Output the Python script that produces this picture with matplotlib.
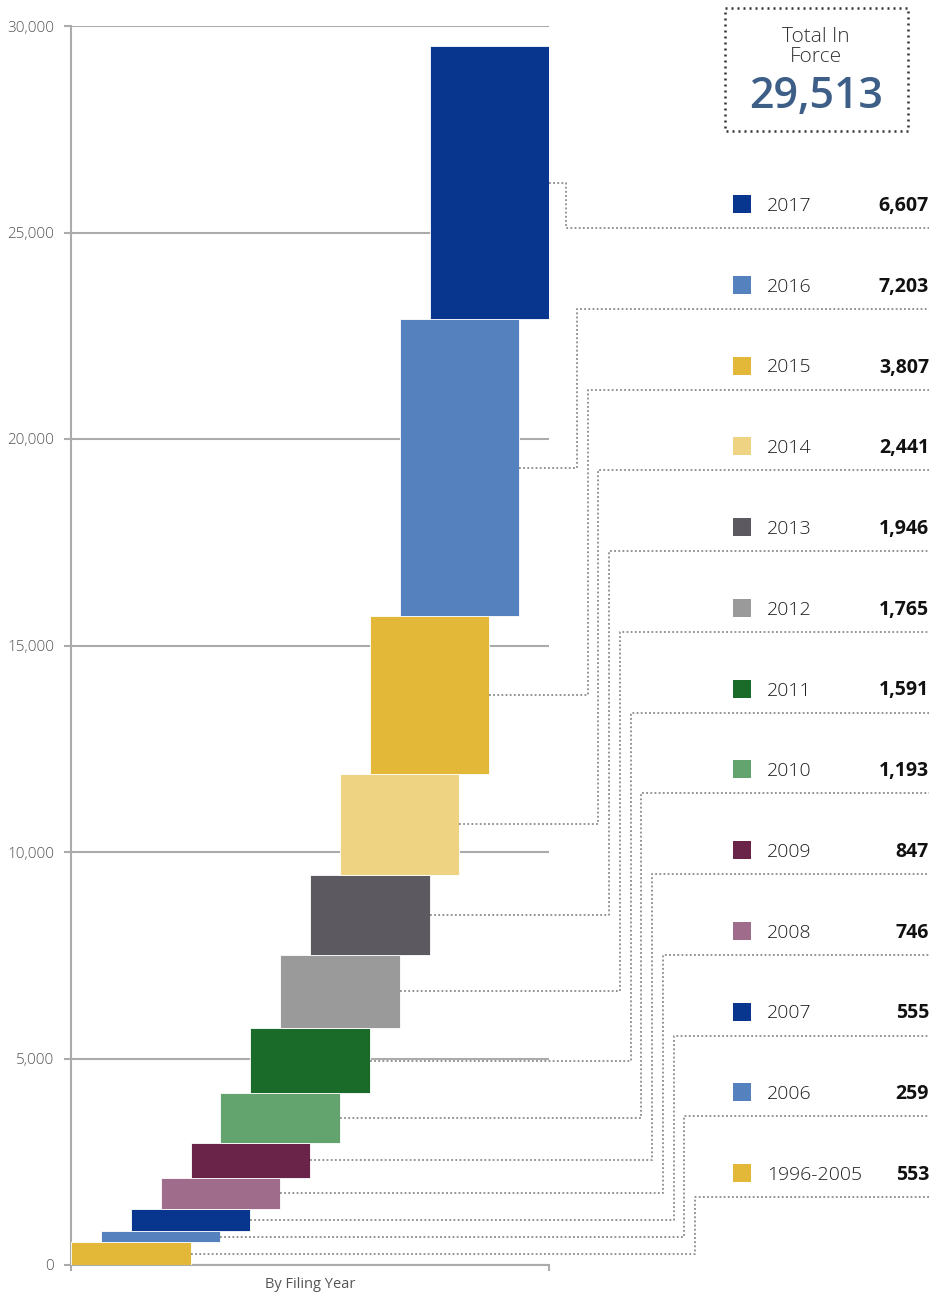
import numpy as np
import matplotlib
matplotlib.use('Agg')
from matplotlib import pyplot as plt
from matplotlib.patches import Rectangle

plt.rcParams['font.family'] = ['Open Sans', 'DejaVu Sans']

# filing years, oldest first
years = ['1996-2005', '2006', '2007', '2008', '2009', '2010', '2011',
         '2012', '2013', '2014', '2015', '2016', '2017']
counts = [553, 259, 555, 746, 847, 1193, 1591, 1765, 1946, 2441, 3807, 7203, 6607]
colors = ['#E3B838', '#5582BE', '#08368F', '#A06C8C', '#6A2449', '#63A36E', '#1A6B2A',
          '#9A9A9A', '#5C5A60', '#EED382', '#E3B838', '#5582BE', '#08368F']
y_ticks = [0, 5000, 10000, 15000, 20000, 25000, 30000]
total_label = '29,513'

W, H = 932, 1297
grid_col = '#ABABAB'
dot_col = '#8A8A8A'

fig = plt.figure(figsize=(W / 100, H / 100), dpi=100)
ax = fig.add_axes([71 / W, (H - 1265) / H, (549 - 71) / W, (1265 - 26) / H])

# waterfall: each bar sits on top of the running total
tops = np.cumsum(counts)
bottoms = tops - np.array(counts)
xs = np.arange(len(counts))
bar_w = 4
ax.bar(xs, counts, bottom=bottoms, width=bar_w, align='edge', color=colors,
       edgecolor='white', linewidth=0.6, zorder=3)

ax.set_xlim(0, len(counts) - 1 + bar_w)
ax.set_ylim(0, 30000)
ax.set_yticks(y_ticks)
ax.set_yticklabels([f'{t:,}' for t in y_ticks])
ax.set_xticks([0, len(counts) - 1 + bar_w])
ax.set_xticklabels([])
ax.set_axisbelow(True)
ax.yaxis.grid(True, color=grid_col, linewidth=1.5)
for s in ['top', 'right']:
    ax.spines[s].set_visible(False)
for s in ['left', 'bottom']:
    ax.spines[s].set_color(grid_col)
    ax.spines[s].set_linewidth(1.5)
ax.tick_params(axis='y', length=5, width=1.5, color=grid_col, labelsize=11,
               labelcolor='#555555', pad=7)
ax.tick_params(axis='x', length=4, width=1.5, color=grid_col)
ax.set_xlabel('By Filing Year', fontsize=10.5, color='#555555', labelpad=1)
for lab in ax.get_yticklabels():
    lab.set_fontweight('light')

# overlay in pixel coordinates for the legend and connectors
ov = fig.add_axes([0, 0, 1, 1], zorder=5)
ov.set_xlim(0, W)
ov.set_ylim(H, 0)
ov.axis('off')
to_pix = ov.transData.inverted()

row_y0 = 1173
row_step = 80.75
vert_x0 = 695
vert_step = 10.75
line_kw = dict(color=dot_col, linewidth=1.3, dashes=(1, 1.3), solid_capstyle='butt')

for i in range(len(counts)):
    px, py = to_pix.transform(ax.transData.transform((xs[i] + bar_w, bottoms[i] + counts[i] / 2)))
    ry = row_y0 - row_step * i
    ly = ry + 24
    vx = vert_x0 - vert_step * i
    ov.plot([px, vx, vx, 929], [py, py, ly, ly], **line_kw)
    ov.add_patch(Rectangle((733, ry - 9), 18, 18, facecolor=colors[i], edgecolor='none'))
    ov.text(767, ry + 2, years[i], fontsize=14, fontweight='light', color='#1E1E1E',
            va='center', ha='left')
    ov.text(929, ry + 2, f'{counts[i]:,}', fontsize=14, fontweight='bold', color='#111111',
            va='center', ha='right')

# total box
ov.add_patch(Rectangle((725, 8), 183, 123, fill=False, edgecolor='#333333',
                       linewidth=1.8, linestyle=(0, (0.8, 1.6))))
ov.text(816, 47, 'Total In\nForce', fontsize=15, fontweight='light', color='#333333',
        ha='center', va='center', linespacing=1.05)
ov.text(816, 97, total_label, fontsize=31, fontweight='semibold', color='#3D5E87',
        ha='center', va='center')

plt.savefig('out.png', dpi=100)
